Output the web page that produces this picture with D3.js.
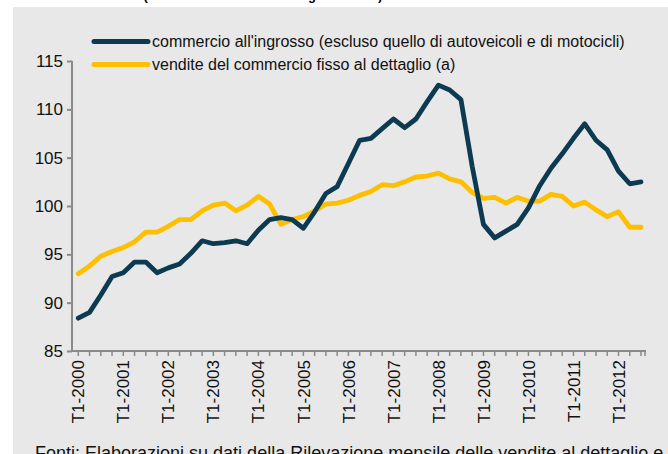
<!DOCTYPE html>
<html>
<head>
<meta charset="utf-8">
<script src="https://cdn.jsdelivr.net/npm/d3@7"></script>
<style>
  body { margin: 0; background: #fff; }
  svg { display: block; font-family: "Liberation Sans", Arial, sans-serif; }
</style>
</head>
<body>
<div id="chart"></div>
<script>
// quarters T1-2000 .. T3-2012
var years = d3.range(2000, 2013);
var quarters = [];
years.forEach(function(y) {
  for (var q = 1; q <= 4; q++) quarters.push("T" + q + "-" + y);
});
quarters = quarters.slice(0, 51);

var ingrosso = [88.4, 89.0, 90.8, 92.7, 93.1, 94.2, 94.2, 93.1, 93.6, 94.0,
  95.1, 96.4, 96.1, 96.2, 96.4, 96.1, 97.5, 98.6, 98.8, 98.6,
  97.7, 99.4, 101.3, 102.0, 104.4, 106.8, 107.0, 108.0, 109.0, 108.1,
  109.0, 110.8, 112.5, 112.0, 111.0, 104.1, 98.1, 96.7, 97.4, 98.1,
  99.8, 102.1, 103.9, 105.4, 107.0, 108.5, 106.8, 105.8, 103.6, 102.3, 102.5];

var dettaglio = [93.0, 93.8, 94.8, 95.3, 95.7, 96.3, 97.3, 97.3, 97.9, 98.6,
  98.6, 99.5, 100.1, 100.3, 99.5, 100.1, 101.0, 100.2, 98.1, 98.6,
  98.9, 99.5, 100.2, 100.3, 100.6, 101.1, 101.5, 102.2, 102.1, 102.5,
  103.0, 103.1, 103.4, 102.8, 102.5, 101.4, 100.8, 100.9, 100.3, 100.9,
  100.5, 100.5, 101.2, 101.0, 100.0, 100.4, 99.6, 98.9, 99.4, 97.8, 97.8];

var seriesNames = [
  "commercio all'ingrosso (escluso quello di autoveicoli e di motocicli)",
  "vendite del commercio fisso al dettaglio (a)"
];
var seriesColors = ["#0c3a50", "#fdbf00"];
var yTicks = [85, 90, 95, 100, 105, 110, 115];

var W = 668, H = 454;
var svg = d3.select("#chart").append("svg")
  .attr("width", W).attr("height", H);

// grey panel
svg.append("rect")
  .attr("x", 13).attr("y", 7)
  .attr("width", W - 13).attr("height", H - 7)
  .attr("fill", "#e8e8e8");

// cut-off title (only descenders visible)
svg.append("text")
  .attr("x", 263).attr("y", 0)
  .attr("text-anchor", "middle")
  .attr("font-weight", "bold")
  .attr("font-size", 13)
  .attr("fill", "#000")
  .text("(indici 2005=100 dati destagionalizzati)");

var x = d3.scalePoint().domain(quarters).range([78.3, 641]);
var y = d3.scaleLinear().domain([85, 115]).range([351, 61]);

var axisColor = "#8a8a8a";

// y axis
var gy = svg.append("g")
  .attr("transform", "translate(72,0)")
  .call(d3.axisLeft(y).tickValues(yTicks).tickSize(5).tickPadding(4).tickFormat(d3.format("d")));
gy.select(".domain").attr("stroke", axisColor).attr("stroke-width", 2)
  .attr("d", "M0," + y(115) + "V" + y(85));
gy.selectAll(".tick line").attr("stroke", axisColor).attr("stroke-width", 2);
gy.selectAll(".tick text").attr("font-size", 17).attr("fill", "#111")
  .attr("font-family", "Liberation Sans, Arial, sans-serif");

// x axis
var gx = svg.append("g")
  .attr("transform", "translate(0," + y(85) + ")");
gx.append("line")
  .attr("x1", 72).attr("x2", 646)
  .attr("stroke", axisColor).attr("stroke-width", 2);
gx.selectAll(".xt").data(quarters).enter().append("line")
  .attr("x1", function(d) { return x(d); })
  .attr("x2", function(d) { return x(d); })
  .attr("y1", 0).attr("y2", 5)
  .attr("stroke", axisColor).attr("stroke-width", 1.5);
gx.append("line")
  .attr("x1", 645).attr("x2", 645).attr("y1", 0).attr("y2", 5)
  .attr("stroke", axisColor).attr("stroke-width", 1.5);
gx.selectAll(".xl").data(quarters.filter(function(d, i) { return i % 4 === 0; }))
  .enter().append("text")
  .attr("transform", function(d) { return "translate(" + x(d) + ",9) rotate(-90)"; })
  .attr("text-anchor", "end")
  .attr("dy", "0.36em")
  .attr("font-size", 17)
  .attr("fill", "#111")
  .text(function(d) { return d; });

// lines
var line = d3.line()
  .x(function(d, i) { return x(quarters[i]); })
  .y(function(d) { return y(d); });

[dettaglio, ingrosso].forEach(function(s, k) {
  svg.append("path")
    .datum(s)
    .attr("fill", "none")
    .attr("stroke", seriesColors[1 - k])
    .attr("stroke-width", 4.8)
    .attr("stroke-linejoin", "round")
    .attr("stroke-linecap", "round")
    .attr("d", line);
});

// legend
var legend = svg.append("g");
seriesNames.forEach(function(name, i) {
  var ly = 41.5 + i * 23;
  legend.append("line")
    .attr("x1", 94).attr("x2", 148)
    .attr("y1", ly).attr("y2", ly)
    .attr("stroke", seriesColors[i])
    .attr("stroke-width", 5)
    .attr("stroke-linecap", "round");
  legend.append("text")
    .attr("x", 152).attr("y", ly)
    .attr("dy", "0.35em")
    .attr("font-size", 16)
    .attr("fill", "#111")
    .text(name);
});

// footer (cut at bottom)
svg.append("text")
  .attr("x", 35).attr("y", 459)
  .attr("font-size", 18)
  .attr("fill", "#111")
  .text("Fonti: Elaborazioni su dati della Rilevazione mensile delle vendite al dettaglio e");
</script>
</body>
</html>
